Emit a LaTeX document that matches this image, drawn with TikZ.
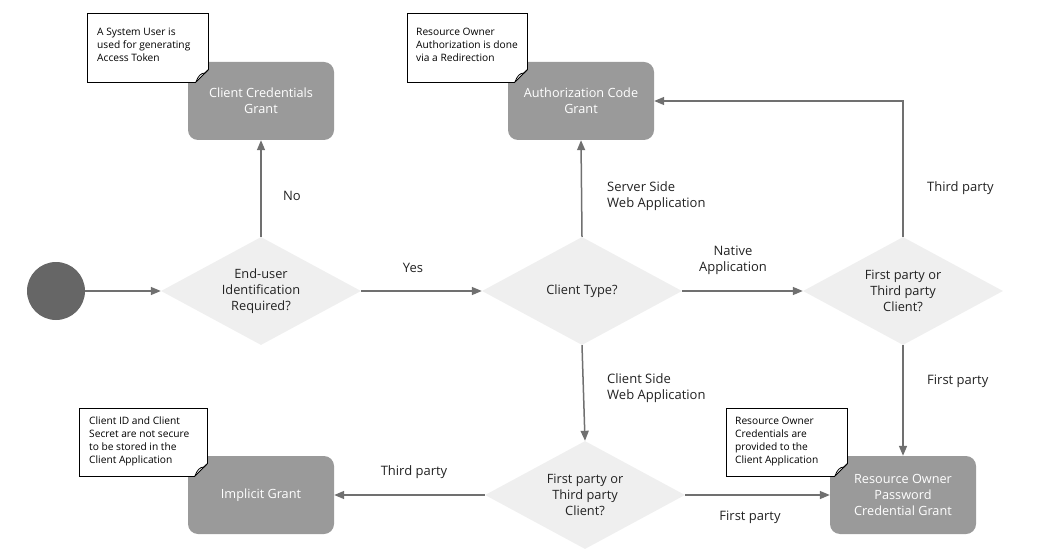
\documentclass[tikz,border=0pt]{standalone}
\usepackage{fontspec}
\setmainfont{Open Sans}
\usetikzlibrary{shapes.geometric,arrows.meta}
\definecolor{boxgray}{HTML}{9A9A9A}
\definecolor{diagray}{HTML}{EFEFEF}
\definecolor{startgray}{HTML}{666666}
\definecolor{linegray}{HTML}{707070}
\definecolor{labelgray}{HTML}{222222}
\tikzset{
  grantbox/.style={draw=none, fill=boxgray, rounded corners=10pt, minimum width=146pt, minimum height=78pt,
    text=white, align=center, font=\fontsize{12.7}{16}\selectfont, inner sep=0pt},
  decision/.style={diamond, fill=diagray, draw=none, minimum width=200pt, minimum height=108pt, aspect=1.85,
    inner sep=0pt, align=center, font=\fontsize{12.8}{16}\selectfont, text=labelgray},
  startdot/.style={circle, fill=startgray, minimum size=58pt, inner sep=0pt},
  flow/.style={draw=linegray, line width=1.5pt, -{Triangle[length=10pt,width=8pt]}},
  edgelabel/.style={font=\fontsize{13}{16}\selectfont, text=labelgray, inner sep=0pt},
  notetext/.style={font=\fontsize{10.2}{13}\selectfont, align=left, inner sep=0pt, anchor=north west, text=black},
}
\newcommand{\notebox}[4]{%
  \fill[white] (#1,#2) -- (#3,#2) -- (#3,#4-12) -- (#3-12,#4) -- (#1,#4) -- cycle;
  \draw[black, line width=0.8pt] (#3,#4-12) -- (#3,#2) -- (#1,#2) -- (#1,#4) -- (#3-12,#4);
  \draw[black, line width=0.8pt, fill=white] (#3-12,#4) .. controls (#3-10,#4-6) and (#3-7,#4-9) .. (#3-3,#4-9)
     .. controls (#3-2,#4-10) .. (#3,#4-12);
  \draw[black, line width=0.8pt] (#3-12,#4) -- (#3,#4-12);
}
\begin{document}
\begin{tikzpicture}[x=1pt,y=-1pt]
\useasboundingbox (0,0) rectangle (1040,553);

% nodes
\node[startdot] (start) at (56,291) {};
\node[decision] (d1) at (261,291) {End-user\\Identification\\Required?};
\node[decision] (d2) at (582,291) {Client Type?};
\node[decision] (d3) at (903,291) {First party or\\Third party\\Client?};
\node[decision] (d4) at (585,495) {First party or\\Third party\\Client?};

\node[grantbox] (ccg) at (261,101) {Client Credentials\\Grant};
\node[grantbox] (acg) at (581,101) {Authorization Code\\Grant};
\node[grantbox] (ig) at (261,495) {Implicit Grant};
\node[grantbox] (ropc) at (903,495) {Resource Owner\\Password\\Credential Grant};

% connectors
\draw[flow] (start.east) -- (d1.west);
\draw[flow] (d1.east) -- (d2.west);
\draw[flow] (d1.north) -- (ccg.south);
\draw[flow] (d2.north) -- (acg.south);
\draw[flow] (d2.east) -- (d3.west);
\draw[flow] (d3.north) |- (acg.east);
\draw[flow] (d3.south) -- (ropc.north);
\draw[flow] (d2.south) -- (d4.north);
\draw[flow] (d4.west) -- (ig.east);
\draw[flow] (d4.east) -- (ropc.west);

% labels
\node[edgelabel] (lno) at (292,196) {No};
\node[edgelabel] (lyes) at (413,268) {Yes};
\node[edgelabel, anchor=west, align=left] (lserver) at (607,196) {Server Side\\Web Application};
\node[edgelabel, align=center] (lnative) at (733,260) {Native\\Application};
\node[edgelabel, anchor=west] (lthird1) at (927,188) {Third party};
\node[edgelabel, anchor=west] (lfirst1) at (927,381) {First party};
\node[edgelabel, anchor=west, align=left] (lclient) at (607,388) {Client Side\\Web Application};
\node[edgelabel] (lthird2) at (414,472) {Third party};
\node[edgelabel] (lfirst2) at (750,517) {First party};

% notes
\notebox{87}{13}{208}{82}
\node[notetext] (n1) at (97,28) {A System User is\\used for generating\\Access Token};
\notebox{407}{13}{527}{82}
\node[notetext] (n2) at (416,28) {Resource Owner\\Authorization is done\\via a Redirection};
\notebox{79}{408}{207}{476}
\node[notetext] (n3) at (89,417) {Client ID and Client\\Secret are not secure\\to be stored in the\\Client Application};
\notebox{726}{408}{847}{476}
\node[notetext] (n4) at (735,417) {Resource Owner\\Credentials are\\provided to the\\Client Application};
\end{tikzpicture}
\end{document}
